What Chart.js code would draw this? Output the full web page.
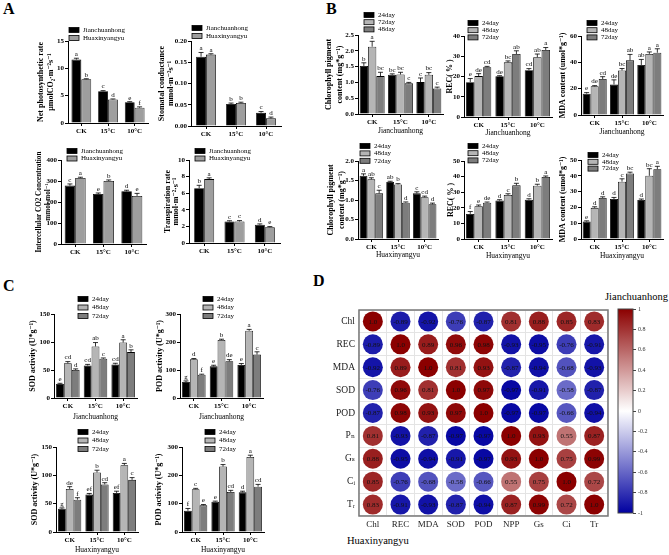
<!DOCTYPE html>
<html>
<head>
<meta charset="utf-8">
<script src="https://cdn.jsdelivr.net/npm/chart.js@4.4.1/dist/chart.umd.min.js"></script>
<style>
  body { margin: 0; width: 669px; height: 555px; position: relative; overflow: hidden; background: #fff;
         font-family: 'Liberation Serif', 'DejaVu Serif', serif; }
  canvas { position: absolute; }
  .panel { position: absolute; font-weight: bold; font-size: 16px; line-height: 1; }
  .note { position: absolute; font-size: 10.5px; line-height: 1; white-space: nowrap; }
</style>
</head>
<body>
<div class="panel" style="left:3px;top:1px">A</div>
<div class="panel" style="left:326px;top:1px">B</div>
<div class="panel" style="left:3px;top:278px">C</div>
<div class="panel" style="left:313px;top:273px">D</div>
<div class="note" style="left:605px;top:292px">Jianchuanhong</div>
<div class="note" style="left:347px;top:536px">Huaxinyangyu</div>
<script>
// categories / series names
const treatments = ['CK', '15°C', '10°C'];
const cultivars = ['Jianchuanhong', 'Huaxinyangyu'];
const days = ['24day', '48day', '72day'];
const daysB1 = ['24day', '72day', '48day']; // legend order as printed in B, first chart

// A - gas exchange, Jianchuanhong (J) vs Huaxinyangyu (H)
const pnJ = [11.6, 5.8, 3.8], pnJErr = [0.25, 0.12, 0.1], pnJLet = ['a', 'c', 'e'];
const pnH = [8.0, 4.3, 2.8], pnHErr = [0.1, 0.1, 0.15], pnHLet = ['b', 'd', 'f'];
const gsJ = [0.163, 0.052, 0.031], gsJErr = [0.01, 0.002, 0.003], gsJLet = ['a', 'b', 'c'];
const gsH = [0.168, 0.054, 0.018], gsHErr = [0.002, 0.002, 0.003], gsHLet = ['a', 'b', 'd'];
const ciJ = [278, 238, 251], ciJErr = [8, 5, 5], ciJLet = ['c', 'e', 'd'];
const ciH = [314, 300, 229], ciHErr = [4, 5, 12], ciHLet = ['a', 'b', 'e'];
const trJ = [6.6, 2.6, 2.2], trJErr = [0.35, 0.08, 0.1], trJLet = ['b', 'c', 'd'];
const trH = [7.7, 2.6, 1.9], trHErr = [0.15, 0.1, 0.08], trHLet = ['a', 'c', 'e'];

// B - chlorophyll, REC, MDA  (three sampling days)
const chlJ = [[1.52, 1.24, 1.01], [2.13, 1.25, 1.24], [1.20, 0.97, 0.81]];
const chlJErr = [[0.1, 0.03, 0.13], [0.17, 0.07, 0.07], [0.12, 0.03, 0.04]];
const chlJLet = [['b', 'bc', 'c'], ['a', 'bc', 'bc'], ['bc', 'c', 'c']];
const recJ = [[17.2, 20.1, 23.1], [20.2, 27.0, 29.5], [24.6, 31.1, 33.1]];
const recJErr = [[1.8, 0.3, 0.8], [1.2, 0.7, 1.6], [0.4, 1.6, 1.2]];
const recJLet = [['e', 'de', 'cd'], ['de', 'bc', 'ab'], ['cd', 'ab', 'a']];
const mdaJ = [[16.2, 23.2, 38.0], [21.8, 33.8, 46.4], [27.3, 41.5, 47.3]];
const mdaJErr = [[0.8, 3.5, 4.2], [0.5, 1.5, 1.5], [1.8, 4.5, 3.0]];
const mdaJLet = [['e', 'de', 'ab'], ['de', 'bc', 'a'], ['cd', 'ab', 'a']];
const chlH = [[1.62, 1.46, 1.17], [1.53, 1.40, 1.07], [1.17, 0.93, 0.89]];
const chlHErr = [[0.05, 0.02, 0.04], [0.04, 0.02, 0.03], [0.08, 0.02, 0.03]];
const chlHLet = [['a', 'ab', 'c'], ['ab', 'b', 'cd'], ['c', 'd', 'd']];
const recH = [[16.1, 24.6, 25.2], [21.0, 28.2, 34.2], [23.3, 34.4, 39.7]];
const recHErr = [[1.5, 0.6, 0.6], [0.8, 0.8, 0.9], [0.4, 1.3, 0.7]];
const recHLet = [['f', 'd', 'd'], ['e', 'c', 'b'], ['de', 'b', 'a']];
const mdaH = [[11.0, 25.3, 24.7], [19.7, 36.3, 40.0], [26.0, 41.5, 44.2]];
const mdaHErr = [[0.5, 1.0, 0.6], [0.7, 1.8, 4.5], [0.7, 0.8, 1.8]];
const mdaHLet = [['e', 'd', 'd'], ['d', 'c', 'bc'], ['d', 'bc', 'a']];

// C - SOD and POD activity
const sodJ = [[25, 58, 60], [62, 92, 99], [50, 70, 82]];
const sodJErr = [[1.2, 2, 2], [3, 7, 5], [2, 1.5, 4]];
const sodJLet = [['e', 'cd', 'cd'], ['cd', 'ab', 'a'], ['d', 'c', 'b']];
const podJ = [[57, 113, 118], [138, 207, 240], [83, 131, 155]];
const podJErr = [[4, 4, 5], [3, 3, 5], [2, 6, 10]];
const podJLet = [['g', 'e', 'e'], ['d', 'b', 'a'], ['f', 'de', 'c']];
const sodH = [[41, 66, 69], [76, 105, 118], [57, 84, 92]];
const sodHErr = [[1.5, 2, 3], [4, 4, 3], [3.5, 3, 4]];
const sodHLet = [['g', 'ef', 'ef'], ['de', 'b', 'a'], ['f', 'cd', 'c']];
const podH = [[75, 107, 140], [151, 231, 265], [94, 141, 160]];
const podHErr = [[8, 2, 4], [3, 7, 6], [3, 6, 8]];
const podHLet = [['f', 'e', 'd'], ['c', 'b', 'a'], ['e', 'cd', 'cd']];

// D - correlation matrix
const corrRows = ['Chl', 'REC', 'MDA', 'SOD', 'POD', 'Pₙ', 'Gₛ', 'Cᵢ', 'Tᵣ'];
const corrCols = ['Chl', 'REC', 'MDA', 'SOD', 'POD', 'NPP', 'Gs', 'Ci', 'Tr'];
const corrValues = [
  [1.0, -0.89, -0.92, -0.76, -0.87, 0.81, 0.88, 0.85, 0.83],
  [-0.89, 1.0, 0.89, 0.96, 0.98, -0.93, -0.95, -0.76, -0.91],
  [-0.92, 0.89, 1.0, 0.81, 0.93, -0.87, -0.94, -0.68, -0.93],
  [-0.76, 0.96, 0.81, 1.0, 0.97, -0.97, -0.91, -0.58, -0.87],
  [-0.87, 0.98, 0.93, 0.97, 1.0, -0.97, -0.97, -0.66, -0.94],
  [0.81, -0.93, -0.87, -0.97, -0.97, 1.0, 0.93, 0.55, 0.87],
  [0.88, -0.95, -0.94, -0.91, -0.97, 0.93, 1.0, 0.75, 0.99],
  [0.85, -0.76, -0.68, -0.58, -0.66, 0.55, 0.75, 1.0, 0.72],
  [0.83, -0.91, -0.93, -0.87, -0.94, 0.87, 0.99, 0.72, 1.0]
];
const cbarRange = [-1, 1, 0.2];

const SERIF = "'Liberation Serif', 'DejaVu Serif', serif";
Chart.defaults.font.family = SERIF;
Chart.defaults.color = '#000';

const cultivarColors = ['#000000', '#9e9e9e'];
const dayColors = ['#000000', '#b5b5b5', '#7d7d7d'];

// error bars, significance letters and the small legend
const barExtras = {
  id: 'barExtras',
  afterDatasetsDraw(chart) {
    const ctx = chart.ctx, y = chart.scales.y;
    chart.data.datasets.forEach((ds, i) => {
      chart.getDatasetMeta(i).data.forEach((bar, j) => {
        const top = y.getPixelForValue(ds.data[j] + ds.err[j]);
        ctx.save();
        ctx.strokeStyle = '#000';
        ctx.lineWidth = 0.8;
        ctx.beginPath();
        ctx.moveTo(bar.x, bar.y);
        ctx.lineTo(bar.x, top);
        ctx.moveTo(bar.x - 2.5, top);
        ctx.lineTo(bar.x + 2.5, top);
        ctx.stroke();
        ctx.fillStyle = '#000';
        ctx.font = '7px ' + SERIF;
        ctx.textAlign = 'center';
        ctx.textBaseline = 'bottom';
        ctx.fillText(ds.letters[j], bar.x, top - 0.5);
        ctx.restore();
      });
    });
  },
  afterDraw(chart, args, opts) {
    const ctx = chart.ctx;
    ctx.save();
    ctx.font = '7px ' + SERIF;
    ctx.textBaseline = 'middle';
    ctx.textAlign = 'left';
    chart.data.datasets.forEach((ds, i) => {
      const yy = opts.y + i * opts.row;
      ctx.fillStyle = ds.backgroundColor;
      ctx.fillRect(opts.x, yy - 2.5, 10, 5);
      ctx.strokeStyle = '#000';
      ctx.lineWidth = 0.8;
      ctx.strokeRect(opts.x, yy - 2.5, 10, 5);
      ctx.fillStyle = '#000';
      ctx.fillText(ds.label, opts.x + 14, yy);
    });
    ctx.restore();
  }
};

function barChart(s) {
  const tSize = s.tSize || 8, tLH = s.tLH || 1.3;
  const lh = tSize * tLH;
  const cl = Math.round(s.titleX - lh / 2);
  const ct = Math.round(Math.min(s.legend[1], s.box[1]) - 7);
  const padR = 5;
  const w = s.box[2] - cl + padR, h = s.box[3] - ct + s.xH;
  const cv = document.createElement('canvas');
  cv.width = w; cv.height = h;
  cv.style.left = cl + 'px'; cv.style.top = ct + 'px';
  document.body.appendChild(cv);

  const datasets = s.labels.map((label, i) => ({
    label: label,
    data: s.data[i],
    err: s.err[i],
    letters: s.letters[i],
    backgroundColor: s.colors[i],
    borderColor: '#000',
    borderWidth: 0.8,
    categoryPercentage: s.cat,
    barPercentage: 1
  }));

  new Chart(cv, {
    type: 'bar',
    data: { labels: treatments, datasets: datasets },
    options: {
      responsive: false,
      animation: false,
      events: [],
      layout: { padding: { top: s.box[1] - ct, right: padR, left: 0, bottom: 0 } },
      plugins: {
        legend: { display: false },
        tooltip: { enabled: false },
        barExtras: { x: s.legend[0] - cl, y: s.legend[1] - ct, row: s.row }
      },
      scales: {
        x: {
          grid: { drawOnChartArea: false, offset: false, color: '#000', tickLength: 3 },
          border: { color: '#000', width: 1 },
          ticks: { font: { size: 7, weight: 'bold' }, padding: 1, maxRotation: 0, autoSkip: false },
          title: s.xTitle ? { display: true, text: s.xTitle, font: { size: 7.5 }, padding: 0 } : { display: false },
          afterFit: sc => { sc.height = s.xH; }
        },
        y: {
          min: s.min, max: s.max,
          ticks: { stepSize: s.step, font: { size: 7, weight: 'bold' }, padding: 1,
                   callback: v => v.toFixed(s.dec || 0) },
          grid: { drawOnChartArea: false, color: '#000', tickLength: 3 },
          border: { color: '#000', width: 1 },
          title: { display: true, text: s.title, font: { size: tSize, weight: 'bold', lineHeight: tLH }, padding: 0 },
          afterFit: sc => { sc.width = s.box[0] - cl; }
        }
      }
    },
    plugins: [barExtras]
  });
}

// ---- panel A
barChart({ box: [68, 41, 148, 123], titleX: 41, tLH: 1.25, title: ['Net photosynthetic rate', 'μmolCO₂·m⁻²s⁻¹'],
  labels: cultivars, data: [pnJ, pnH], err: [pnJErr, pnHErr], letters: [pnJLet, pnHLet], colors: cultivarColors,
  min: 0, max: 15, step: 5, legend: [69, 30], row: 8, xH: 12, cat: 0.74 });
barChart({ box: [191, 41, 281, 126], titleX: 162, tLH: 1.1, title: ['Stomatal conductance', 'mmol·m⁻²s⁻¹'],
  labels: cultivars, data: [gsJ, gsH], err: [gsJErr, gsHErr], letters: [gsJLet, gsHLet], colors: cultivarColors,
  min: 0, max: 0.2, step: 0.05, dec: 2, legend: [192, 28], row: 8, xH: 12, cat: 0.66 });
barChart({ box: [61, 160, 146, 244], titleX: 39, tSize: 7.2, tLH: 1.35, title: ['Intercellular CO2 Concentration', 'mmol·mol⁻¹'],
  labels: cultivars, data: [ciJ, ciH], err: [ciJErr, ciHErr], letters: [ciJLet, ciHLet], colors: cultivarColors,
  min: 0, max: 400, step: 100, legend: [67, 151], row: 7.5, xH: 12, cat: 0.74 });
barChart({ box: [189, 160, 280, 243], titleX: 168, tLH: 1.0, title: ['Transpiration rate', 'mmol·m⁻²·s⁻¹'],
  labels: cultivars, data: [trJ, trH], err: [trJErr, trHErr], letters: [trJLet, trHLet], colors: cultivarColors,
  min: 0, max: 10, step: 2, legend: [195, 151], row: 7.5, xH: 12, cat: 0.66 });

// ---- panel B
barChart({ box: [358, 35, 443, 114], titleX: 329, tLH: 1.4, title: ['Chlorophyll pigment', 'content (mg*g⁻¹)'],
  labels: daysB1, data: chlJ, err: chlJErr, letters: chlJLet, colors: dayColors, xTitle: 'Jianchuanhong',
  min: 0, max: 2.5, step: 0.5, dec: 1, legend: [364, 15], row: 7.2, xH: 22, cat: 0.88 });
barChart({ box: [464, 36, 552, 117], titleX: 450, title: ['REC( % )'],
  labels: days, data: recJ, err: recJErr, letters: recJLet, colors: dayColors, xTitle: 'Jianchuanhong',
  min: 0, max: 40, step: 10, legend: [468, 23], row: 7.2, xH: 21, cat: 0.86 });
barChart({ box: [581, 36, 663, 115], titleX: 563, title: ['MDA content (umol*g⁻¹)'],
  labels: days, data: mdaJ, err: mdaJErr, letters: mdaJLet, colors: dayColors, xTitle: 'Jianchuanhong',
  min: 0, max: 60, step: 20, legend: [587, 23], row: 7.2, xH: 22, cat: 0.88 });
barChart({ box: [358, 161, 438, 239], titleX: 331, tLH: 1.4, title: ['Chlorophyll pigment', 'content (mg*g⁻¹)'],
  labels: days, data: chlH, err: chlHErr, letters: chlHLet, colors: dayColors, xTitle: 'Huaxinyangyu',
  min: 0, max: 2.0, step: 0.5, dec: 1, legend: [360, 146], row: 7.4, xH: 21, cat: 0.88 });
barChart({ box: [464, 161, 552, 239], titleX: 451, title: ['REC( % )'],
  labels: days, data: recH, err: recHErr, letters: recHLet, colors: dayColors, xTitle: 'Huaxinyangyu',
  min: 0, max: 50, step: 10, legend: [468, 146], row: 7.2, xH: 22, cat: 0.86 });
barChart({ box: [581, 160, 663, 239], titleX: 563, title: ['MDA content (umol*g⁻¹)'],
  labels: days, data: mdaH, err: mdaHErr, letters: mdaHLet, colors: dayColors, xTitle: 'Huaxinyangyu',
  min: 0, max: 50, step: 10, legend: [588, 155], row: 6.8, xH: 22, cat: 0.88 });

// ---- panel C
barChart({ box: [54, 314, 137, 398], titleX: 33, title: ['SOD activity (U*g⁻¹)'],
  labels: days, data: sodJ, err: sodJErr, letters: sodJLet, colors: dayColors, xTitle: 'Jianchuanhong',
  min: 0, max: 150, step: 50, legend: [78, 299], row: 8.5, xH: 24, cat: 0.85 });
barChart({ box: [180, 314, 263, 398], titleX: 160, title: ['POD activity (U*g⁻¹)'],
  labels: days, data: podJ, err: podJErr, letters: podJLet, colors: dayColors, xTitle: 'Jianchuanhong',
  min: 0, max: 300, step: 100, legend: [203, 299], row: 8.5, xH: 24, cat: 0.85 });
barChart({ box: [56, 447, 138, 532], titleX: 35, title: ['SOD activity (U*g⁻¹)'],
  labels: days, data: sodH, err: sodHErr, letters: sodHLet, colors: dayColors, xTitle: 'Huaxinyangyu',
  min: 0, max: 150, step: 50, legend: [78, 432], row: 8.5, xH: 23, cat: 0.85 });
barChart({ box: [182, 447, 264, 532], titleX: 159, title: ['POD activity (U*g⁻¹)'],
  labels: days, data: podH, err: podHErr, letters: podHLet, colors: dayColors, xTitle: 'Huaxinyangyu',
  min: 0, max: 300, step: 100, legend: [205, 432], row: 8.5, xH: 23, cat: 0.85 });

// ---- panel D: correlation circles
function corrColor(v) {
  const t = Math.min(1, Math.abs(v));
  const end = v >= 0 ? [139, 0, 0] : [0, 0, 160];
  const c = end.map(e => Math.round(255 + (e - 255) * t));
  return 'rgb(' + c.join(',') + ')';
}

const corrPoints = [];
corrValues.forEach((row, i) => row.forEach((v, j) => {
  corrPoints.push({ x: corrCols[j], y: corrRows[i], v: v });
}));

const corrText = {
  id: 'corrText',
  afterDatasetsDraw(chart) {
    const ctx = chart.ctx;
    ctx.save();
    ctx.font = '7px ' + SERIF;
    ctx.fillStyle = '#111';
    ctx.textAlign = 'center';
    ctx.textBaseline = 'middle';
    chart.getDatasetMeta(0).data.forEach((pt, k) => {
      const v = corrPoints[k].v;
      ctx.fillText(v === 1 ? '1.0' : v.toFixed(2), pt.x, pt.y + 0.5);
    });
    ctx.restore();
  },
  afterDraw(chart) {
    const a = chart.chartArea, ctx = chart.ctx;
    ctx.save();
    ctx.strokeStyle = '#777';
    ctx.lineWidth = 1.5;
    ctx.strokeRect(a.left, a.top, a.right - a.left, a.bottom - a.top);
    ctx.restore();
  }
};

(function () {
  const cv = document.createElement('canvas');
  cv.width = 290; cv.height = 232;
  cv.style.left = '328px'; cv.style.top = '300px';
  document.body.appendChild(cv);
  new Chart(cv, {
    type: 'scatter',
    data: { datasets: [{ data: corrPoints, pointRadius: 10, pointHoverRadius: 10, borderWidth: 0,
      backgroundColor: c => corrColor(c.raw ? c.raw.v : 0) }] },
    options: {
      responsive: false, animation: false, events: [],
      layout: { padding: { top: 9, right: 2, left: 0, bottom: 0 } },
      plugins: { legend: { display: false }, tooltip: { enabled: false } },
      scales: {
        x: { type: 'category', labels: corrCols, offset: true,
             grid: { offset: true, color: '#e4e4e4', drawTicks: false }, border: { display: false },
             ticks: { font: { size: 9 }, color: '#222', padding: 3 },
             afterFit: sc => { sc.height = 16; } },
        y: { type: 'category', labels: corrRows, offset: true,
             grid: { offset: true, color: '#e4e4e4', drawTicks: false }, border: { display: false },
             ticks: { font: { size: 9.5 }, color: '#222', padding: 4 },
             afterFit: sc => { sc.width = 31; } }
      }
    },
    plugins: [corrText]
  });
})();

// colour bar
const cbarFill = {
  id: 'cbarFill',
  beforeDatasetsDraw(chart) {
    const a = chart.chartArea, ctx = chart.ctx, y = chart.scales.y;
    const g = ctx.createLinearGradient(0, a.top, 0, a.bottom);
    for (let k = 0; k <= 20; k++) {
      const v = cbarRange[1] - k * (cbarRange[1] - cbarRange[0]) / 20;
      g.addColorStop((y.getPixelForValue(v) - a.top) / (a.bottom - a.top), corrColor(v));
    }
    ctx.save();
    ctx.fillStyle = g;
    ctx.fillRect(a.left, a.top, a.right - a.left, a.bottom - a.top);
    ctx.strokeStyle = '#444';
    ctx.lineWidth = 1;
    ctx.strokeRect(a.left, a.top, a.right - a.left, a.bottom - a.top);
    ctx.restore();
  }
};

(function () {
  const cv = document.createElement('canvas');
  cv.width = 57; cv.height = 219;
  cv.style.left = '612px'; cv.style.top = '300px';
  document.body.appendChild(cv);
  new Chart(cv, {
    type: 'bar',
    data: { labels: [''], datasets: [{ data: [] }] },
    options: {
      responsive: false, animation: false, events: [],
      layout: { padding: { left: 6, top: 9, bottom: 6, right: 0 } },
      plugins: { legend: { display: false }, tooltip: { enabled: false } },
      scales: {
        x: { display: false },
        y: { position: 'right', min: cbarRange[0], max: cbarRange[1],
             ticks: { stepSize: cbarRange[2], font: { size: 6 }, color: '#333', padding: 2,
                      callback: v => String(Number(v.toFixed(1))) },
             grid: { drawOnChartArea: false, color: '#444', tickLength: 3 },
             border: { display: false },
             afterFit: sc => { sc.width = 36; } }
      }
    },
    plugins: [cbarFill]
  });
})();
</script>
</body>
</html>
